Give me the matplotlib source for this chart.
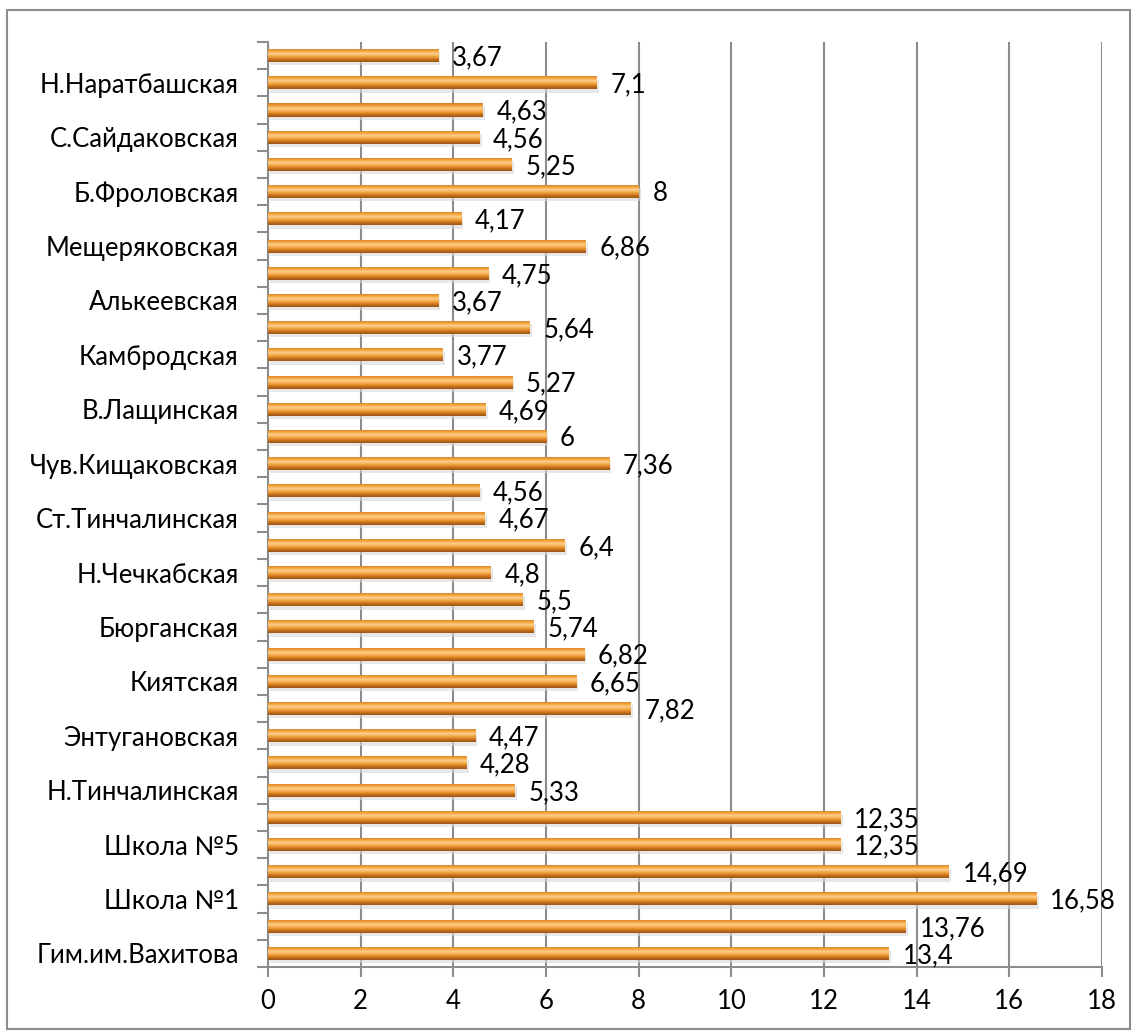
import matplotlib
matplotlib.use("Agg")
import matplotlib.pyplot as plt
import numpy as np
from matplotlib.colors import LinearSegmentedColormap
from matplotlib.patches import Rectangle

plt.rcParams['font.family'] = ['Lato', 'DejaVu Sans']

names = ["Гим.им.Вахитова", "Школа №1", "Школа №5", "Н.Тинчалинская", "Энтугановская",
         "Киятская", "Бюрганская", "Н.Чечкабская", "Ст.Тинчалинская", "Чув.Кищаковская",
         "В.Лащинская", "Камбродская", "Алькеевская", "Мещеряковская", "Б.Фроловская",
         "С.Сайдаковская", "Н.Наратбашская"]
values = [13.4, 13.76, 16.58, 14.69, 12.35, 12.35, 5.33, 4.28, 4.47, 7.82, 6.65, 6.82,
          5.74, 5.5, 4.8, 6.4, 4.67, 4.56, 7.36, 6, 4.69, 5.27, 3.77, 5.64, 3.67, 4.75,
          6.86, 4.17, 8, 5.25, 4.56, 4.63, 7.1, 3.67]
categories = []
for n in names:
    categories += [n, ""]
xticks = [0, 2, 4, 6, 8, 10, 12, 14, 16, 18]

fig = plt.figure(figsize=(11.32, 10.32), dpi=100)
fig.patches.append(Rectangle((0.006, 0.003), 0.992, 0.987, transform=fig.transFigure,
                             fill=False, edgecolor='#8c8c8c', linewidth=1.5))
ax = fig.add_axes([0.2367, 0.063, 0.7368, 0.8963])

n = len(values)
y = np.arange(n)
h = 0.48
cmap = LinearSegmentedColormap.from_list("bar", [
    (0.0, '#9A5515'), (0.15, '#C06A1A'), (0.35, '#EE9A33'), (0.6, '#FDD08A'),
    (0.78, '#F5A640'), (1.0, '#D07A20')])
grad = np.linspace(0, 1, 64).reshape(-1, 1)

bars = ax.barh(y, values, height=h, color='none', edgecolor='none', zorder=3)
for b, v in zip(bars, values):
    x0, y0 = b.get_x(), b.get_y()
    w, hh = b.get_width(), b.get_height()
    ax.add_patch(Rectangle((x0 + 0.05, y0 - 0.12), w, hh, facecolor='#d8d8d8',
                           edgecolor='none', zorder=2, alpha=0.6))
    im = ax.imshow(grad, cmap=cmap, aspect='auto', origin='lower',
                   extent=(x0, x0 + w, y0, y0 + hh), zorder=3)
    im.set_clip_path(b)
    ax.text(v + 0.3, b.get_y() + hh / 2 - 0.08, f"{v:g}".replace('.', ','),
            fontsize=18.5, va='center', ha='left', color='black', zorder=4)

ax.set_xlim(0, 18)
ax.set_ylim(-0.5, n - 0.5)
ax.set_xticks(xticks)
ax.set_xticklabels([str(t) for t in xticks], fontsize=18.5)
ax.set_yticks(y)
ax.set_yticklabels(categories, fontsize=18.5)
ax.set_yticks(np.arange(-0.5, n, 1.0), minor=True)
ax.tick_params(axis='y', which='major', length=0, pad=21)
ax.tick_params(axis='y', which='minor', length=8, color='#8c8c8c', width=1.5)
ax.tick_params(axis='x', which='major', length=7, color='#8c8c8c', width=1.5, pad=9)
ax.xaxis.grid(True, color='#8c8c8c', linewidth=1.5, zorder=1)
ax.set_axisbelow(True)
for s in ['top', 'right']:
    ax.spines[s].set_visible(False)
for s in ['left', 'bottom']:
    ax.spines[s].set_color('#8c8c8c')
    ax.spines[s].set_linewidth(1.5)

fig.savefig("out.png", dpi=100)
